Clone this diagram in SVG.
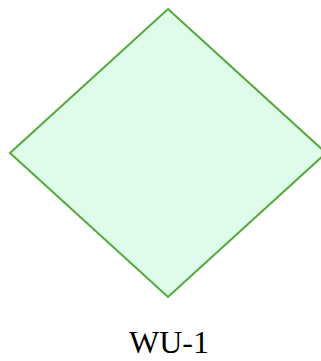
<svg xmlns="http://www.w3.org/2000/svg" width="321" height="361" viewBox="0 0 321 361">
<style>
.node{fill:#dffbe9;stroke:#52a83a;stroke-width:2}
.label{font-family:"Liberation Serif",serif;font-size:32px;fill:#000;text-anchor:middle}
</style>
<rect width="321" height="361" fill="#fff"/>
<g id="connectors"></g>
<g id="WU-1">
<polygon class="node" points="168,9 326,153 168,297 10,153"/>
<text class="label" x="169" y="353">WU-1</text>
</g>
</svg>
